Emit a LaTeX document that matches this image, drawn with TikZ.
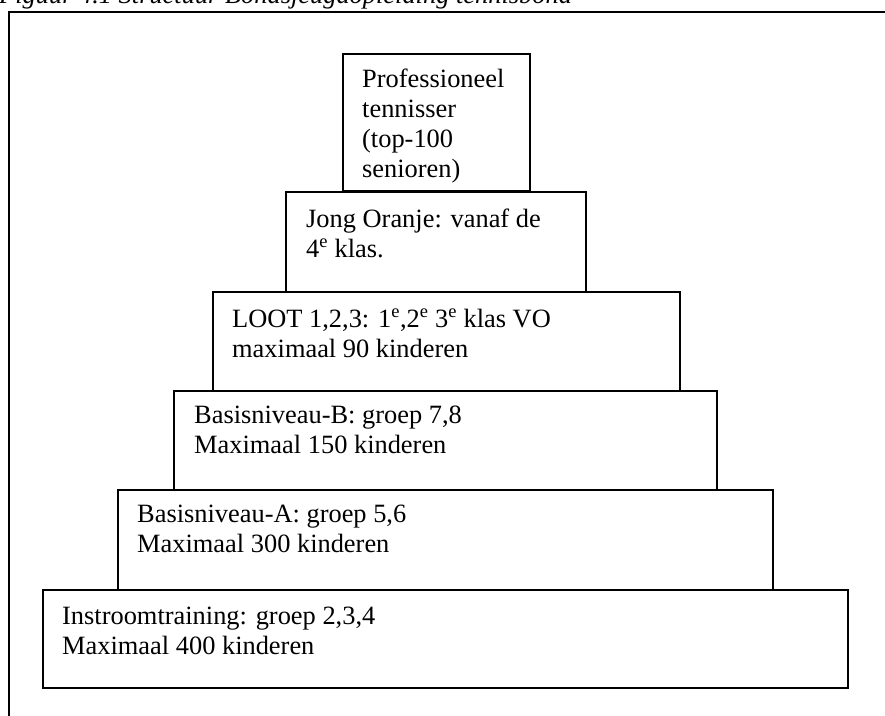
\documentclass[tikz,border=0pt]{standalone}
\usepackage{fontspec}
\setmainfont{Liberation Serif}
\newcommand{\tlines}[1]{\vtop{\fontsize{26.4}{30}\selectfont #1}}
\newcommand{\tl}[1]{\hbox{\strut #1}}
\begin{document}
\begin{tikzpicture}[x=1pt,y=-1pt,
  box/.style={draw=black, line width=1.6pt, rectangle, inner sep=0pt, anchor=north west},
  txt/.style={anchor=base west, inner sep=0pt},
  frame/.style={draw=black, line width=1.8pt}]
\useasboundingbox (0,0) rectangle (885,715);
\clip (0,0) rectangle (885,715);
\fill[white] (0,0) rectangle (885,715);

% caption (cut off at the top)
\node[txt, font=\fontsize{26.4}{30}\selectfont\itshape] (cap) at (-1,3) {Figuur 4.1 Structuur Bondsjeugdopleiding tennisbond};

% outer frame
\coordinate (fbl) at (9,720);
\coordinate (ftl) at (9,12);
\coordinate (ftr) at (890,12);
\draw[frame] (fbl) -- (ftl) -- (ftr);

% boxes
\node[box, minimum width=187pt, minimum height=137pt] (b1) at (342,53) {};
\node[box, minimum width=300pt, minimum height=100pt] (b2) at (285,191) {};
\node[box, minimum width=467pt, minimum height=99pt] (b3) at (212,291) {};
\node[box, minimum width=543pt, minimum height=99pt] (b4) at (173,390) {};
\node[box, minimum width=655pt, minimum height=100pt] (b5) at (117,489) {};
\node[box, minimum width=805pt, minimum height=98pt] (b6) at (42,589) {};

% texts
\node[txt] (t1) at (362,87) {\tlines{\tl{Professioneel}\tl{tennisser}\tl{(top-100}\tl{senioren)}}};
\node[txt] (t2) at (306,227) {\tlines{\tl{Jong Oranje: vanaf de}\tl{4\textsuperscript{e} klas.}}};
\node[txt] (t3) at (232,327) {\tlines{\tl{LOOT 1,2,3: 1\textsuperscript{e},2\textsuperscript{e} 3\textsuperscript{e} klas VO}\tl{maximaal 90 kinderen}}};
\node[txt] (t4) at (194,423) {\tlines{\tl{Basisniveau-B: groep 7,8}\tl{Maximaal 150 kinderen}}};
\node[txt] (t5) at (137,522) {\tlines{\tl{Basisniveau-A: groep 5,6}\tl{Maximaal 300 kinderen}}};
\node[txt] (t6) at (62,624) {\tlines{\tl{Instroomtraining: groep 2,3,4}\tl{Maximaal 400 kinderen}}};
\end{tikzpicture}
\end{document}
